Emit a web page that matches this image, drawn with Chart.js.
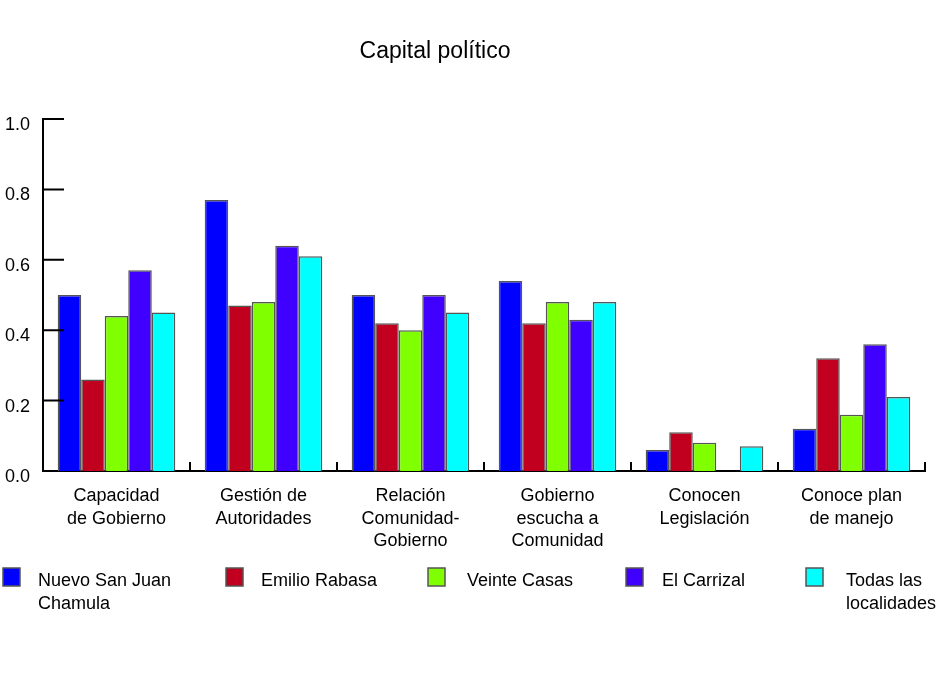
<!DOCTYPE html>
<html>
<head>
<meta charset="utf-8">
<script src="https://cdn.jsdelivr.net/npm/chart.js@4"></script>
<style>
  body { margin: 0; background: #fff; }
  #wrap { width: 940px; height: 689px; position: relative; }
</style>
</head>
<body>
<div id="wrap"><canvas id="capitalChart"></canvas></div>
<script>
const categories = [
    ['Capacidad', 'de Gobierno'],
    ['Gestión de', 'Autoridades'],
    ['Relación', 'Comunidad-', 'Gobierno'],
    ['Gobierno', 'escucha a', 'Comunidad'],
    ['Conocen', 'Legislación'],
    ['Conoce plan', 'de manejo']
];
const seriesNames = [
    ['Nuevo San Juan', 'Chamula'],
    ['Emilio Rabasa'],
    ['Veinte Casas'],
    ['El Carrizal'],
    ['Todas las', 'localidades']
];
const nuevoSanJuan = [0.50, 0.77, 0.50, 0.54, 0.06, 0.12];
const emilioRabasa = [0.26, 0.47, 0.42, 0.42, 0.11, 0.32];
const veinteCasas = [0.44, 0.48, 0.40, 0.48, 0.08, 0.16];
const elCarrizal = [0.57, 0.64, 0.50, 0.43, 0, 0.36];
const todas = [0.45, 0.61, 0.45, 0.48, 0.07, 0.21];
const yTicks = [0, 0.2, 0.4, 0.6, 0.8, 1.0];

const seriesValues = [nuevoSanJuan, emilioRabasa, veinteCasas, elCarrizal, todas];
const colors = ['#0000ff', '#c0001e', '#80ff00', '#4000ff', '#00ffff'];
const fontFamily = '"Liberation Sans", Arial, sans-serif';

// title, inward ticks and the legend are drawn by hand
const decorPlugin = {
    id: 'decor',
    afterDraw(chart) {
        const ctx = chart.ctx;
        const x = chart.scales.x;
        const y = chart.scales.y;
        ctx.save();
        ctx.strokeStyle = '#000';
        ctx.lineWidth = 2;
        ctx.beginPath();
        y.ticks.forEach(t => {
            const py = y.getPixelForValue(t.value);
            if (t.value === 0) return;
            ctx.moveTo(x.left, py);
            ctx.lineTo(x.left + 21, py);
        });
        for (let i = 1; i <= categories.length; i++) {
            const px = x.left + (x.right - x.left) * i / categories.length;
            ctx.moveTo(px, y.bottom);
            ctx.lineTo(px, y.bottom - 9);
        }
        ctx.stroke();

        ctx.fillStyle = '#000';
        ctx.font = '23px ' + fontFamily;
        ctx.textAlign = 'center';
        ctx.textBaseline = 'middle';
        ctx.fillText('Capital político', 435, 52);

        const boxX = [3, 226, 428, 626, 806];
        const textX = [38, 261, 467, 662, 846];
        ctx.font = '18px ' + fontFamily;
        ctx.textAlign = 'left';
        seriesNames.forEach((lines, i) => {
            ctx.fillStyle = colors[i];
            ctx.fillRect(boxX[i], 568, 17, 18);
            ctx.strokeStyle = '#555';
            ctx.lineWidth = 1.5;
            ctx.strokeRect(boxX[i], 568, 17, 18);
            ctx.fillStyle = '#000';
            lines.forEach((ln, j) => ctx.fillText(ln, textX[i], 581 + j * 23));
        });
        ctx.restore();
    }
};

function generateChart() {
    const ctx = document.getElementById('capitalChart').getContext('2d');

    const data = {
        labels: categories,
        datasets: seriesValues.map((vals, i) => ({
            label: seriesNames[i].join(' '),
            data: vals,
            backgroundColor: colors[i],
            borderColor: '#555',
            borderWidth: 1.5,
            categoryPercentage: 0.8,
            barPercentage: 1.0
        }))
    };

    const config = {
        type: 'bar',
        data: data,
        options: {
            responsive: true,
            maintainAspectRatio: false,
            animation: false,
            layout: {
                padding: { top: 119, right: 15, bottom: 128, left: 0 }
            },
            scales: {
                x: {
                    grid: { display: false, drawTicks: false },
                    border: { display: true, color: '#000', width: 2 },
                    ticks: {
                        color: '#000',
                        font: { family: fontFamily, size: 18, lineHeight: 1.25 },
                        maxRotation: 0,
                        autoSkip: false,
                        padding: 14
                    },
                    afterFit(scale) { scale.height = 90; }
                },
                y: {
                    min: 0,
                    max: 1,
                    afterBuildTicks(scale) {
                        scale.ticks = yTicks.map(v => ({ value: v }));
                    },
                    grid: { display: false, drawTicks: false },
                    border: { display: true, color: '#000', width: 2 },
                    ticks: {
                        color: '#000',
                        font: { family: fontFamily, size: 18 },
                        callback: v => v.toFixed(1),
                        padding: 13,
                        labelOffset: 6
                    },
                    afterFit(scale) { scale.width = 43; }
                }
            },
            plugins: {
                legend: { display: false },
                title: { display: false },
                tooltip: { enabled: false }
            }
        },
        plugins: [decorPlugin]
    };

    new Chart(ctx, config);
}

window.onload = generateChart;
</script>
</body>
</html>
